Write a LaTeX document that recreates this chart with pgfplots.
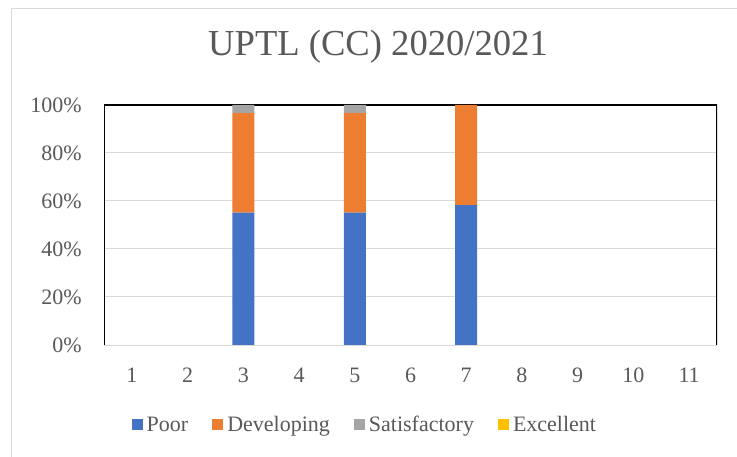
\documentclass[border=0pt]{standalone}
\usepackage{pgfplots}
\pgfplotsset{compat=1.18}
\usepackage{fontspec}
\setmainfont{Liberation Serif}
\definecolor{poor}{HTML}{4472C4}
\definecolor{developing}{HTML}{ED7D31}
\definecolor{satisfactory}{HTML}{A5A5A5}
\definecolor{excellent}{HTML}{FFC000}
\definecolor{gridgray}{HTML}{D9D9D9}
\definecolor{textgray}{HTML}{595959}
\begin{document}
\begin{tikzpicture}
\useasboundingbox (0bp,0bp) rectangle (737bp,457bp);
\fill[white] (0bp,0bp) rectangle (737bp,457bp);
\draw[gridgray, line width=1bp] (11bp,448bp) rectangle (745bp,-5bp);
\begin{axis}[
  at={(104bp,112bp)}, anchor=south west,
  scale only axis, width=613bp, height=240bp,
  ybar stacked, bar width=22bp,
  xmin=0.5, xmax=11.5, ymin=0, ymax=100,
  xtick={1,...,11}, xticklabels={1,2,3,4,5,6,7,8,9,10,11},
  ytick={0,20,...,100},
  yticklabel={\pgfmathprintnumber[assume math mode=true]{\tick}\%},
  ymajorgrids, grid style={line width=1bp, color=gridgray},
  major tick length=0pt,
  axis line style={draw=none},
  tick label style={font=\fontsize{22bp}{26bp}\selectfont, text=textgray},
  xticklabel style={anchor=north, inner sep=0pt, yshift=-23bp},
  yticklabel style={anchor=east, inner sep=0pt, xshift=-22bp},
  title={UPTL (CC) 2020/2021},
  title style={at={(0.447,1.22)}, anchor=center, inner sep=0pt,
    font=\fontsize{36.6bp}{40bp}\selectfont, text=textgray},
  legend style={at={(0.424,-0.333)}, anchor=center, draw=none, fill=none,
    legend columns=4, font=\fontsize{22bp}{26bp}\selectfont, text=textgray,
    nodes={inner sep=0pt},
    /tikz/every odd column/.append style={column sep=4bp},
    /tikz/every even column/.append style={column sep=24bp}},
  legend image code/.code={\path[#1,draw=none] (0bp,-5.5bp) rectangle (11bp,5.5bp);},
  every axis plot/.append style={draw=none},
]
\addplot[fill=poor] coordinates {(3,55.2) (5,55.2) (7,58.3)};
\addplot[fill=developing] coordinates {(3,41.4) (5,41.4) (7,41.7)};
\addplot[fill=satisfactory] coordinates {(3,3.4) (5,3.4) (7,0)};
\addplot[fill=excellent] coordinates {(3,0) (5,0) (7,0)};
\legend{Poor,Developing,Satisfactory,Excellent}
\draw[black, line width=1.5bp] (rel axis cs:0,0) -- (rel axis cs:0,1) -- (rel axis cs:1,1) -- (rel axis cs:1,0);
\end{axis}
\end{tikzpicture}
\end{document}
